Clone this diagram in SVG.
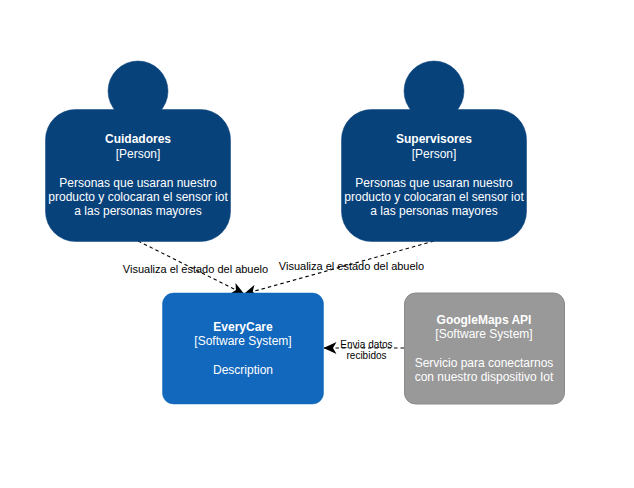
<svg xmlns="http://www.w3.org/2000/svg" width="634" height="488" viewBox="0 0 634 488">
<style>
text{font-family:"Liberation Sans",Arial,sans-serif;text-anchor:middle;font-size:12px;fill:#fff}
.b{font-weight:bold}
.p{fill:#08427b;stroke:#08427b;stroke-width:.5}
.l{font-size:11px;fill:#000}
.s{font-size:10px;fill:#000}
.c{fill:none;stroke:#000;stroke-width:1.100;stroke-dasharray:3.500 3}
</style>
<defs><marker id="a" viewBox="0 0 13 12" refX="12.500" refY="6" markerWidth="13" markerHeight="12" markerUnits="userSpaceOnUse" orient="auto"><path d="M13 6L0 12L3.500 6L0 0Z" fill="#000"/></marker></defs>
<rect width="634" height="488" fill="#fff"/>
<g id="connectors">
<path class="c" d="M138 241L244 294" marker-end="url(#a)"/>
<path class="c" d="M434 241L244 294" marker-end="url(#a)"/>
<path class="c" d="M404 348L324 348" marker-end="url(#a)"/>
</g>
<g id="cuidadores">
<circle class="p" cx="138" cy="91" r="30"/>
<rect class="p" x="45.500" y="109.500" width="185" height="132" rx="30"/>
<text class="b" x="138" y="143">Cuidadores</text>
<text x="138" y="158">[Person]</text>
<text x="138" y="187">Personas que usaran nuestro</text>
<text x="138" y="201">producto y colocaran el sensor iot</text>
<text x="138" y="215">a las personas mayores</text>
</g>
<g id="supervisores">
<circle class="p" cx="434" cy="91" r="30"/>
<rect class="p" x="341.500" y="109.500" width="185" height="132" rx="30"/>
<text class="b" x="434" y="143">Supervisores</text>
<text x="434" y="158">[Person]</text>
<text x="434" y="187">Personas que usaran nuestro</text>
<text x="434" y="201">producto y colocaran el sensor iot</text>
<text x="434" y="215">a las personas mayores</text>
</g>
<g id="everycare">
<rect x="162.500" y="293" width="161" height="111" rx="11" fill="#1168bd" stroke="#1168bd" stroke-width=".5"/>
<text class="b" x="243" y="331">EveryCare</text>
<text x="243" y="345">[Software System]</text>
<text x="243" y="374">Description</text>
</g>
<g id="googlemaps">
<rect x="404.500" y="293" width="160" height="111" rx="11" fill="#999" stroke="#8a8a8a"/>
<text class="b" x="484" y="324">GoogleMaps API</text>
<text x="484" y="338">[Software System]</text>
<text x="484" y="367">Servicio para conectarnos</text>
<text x="484" y="381">con nuestro dispositivo Iot</text>
</g>
<g id="labels">
<text class="l" x="195.500" y="273">Visualiza el estado del abuelo</text>
<text class="l" x="351.500" y="270">Visualiza el estado del abuelo</text>
<text class="s" x="366.500" y="348">Envia datos</text>
<text class="s" x="366.500" y="359">recibidos</text>
</g>
</svg>
